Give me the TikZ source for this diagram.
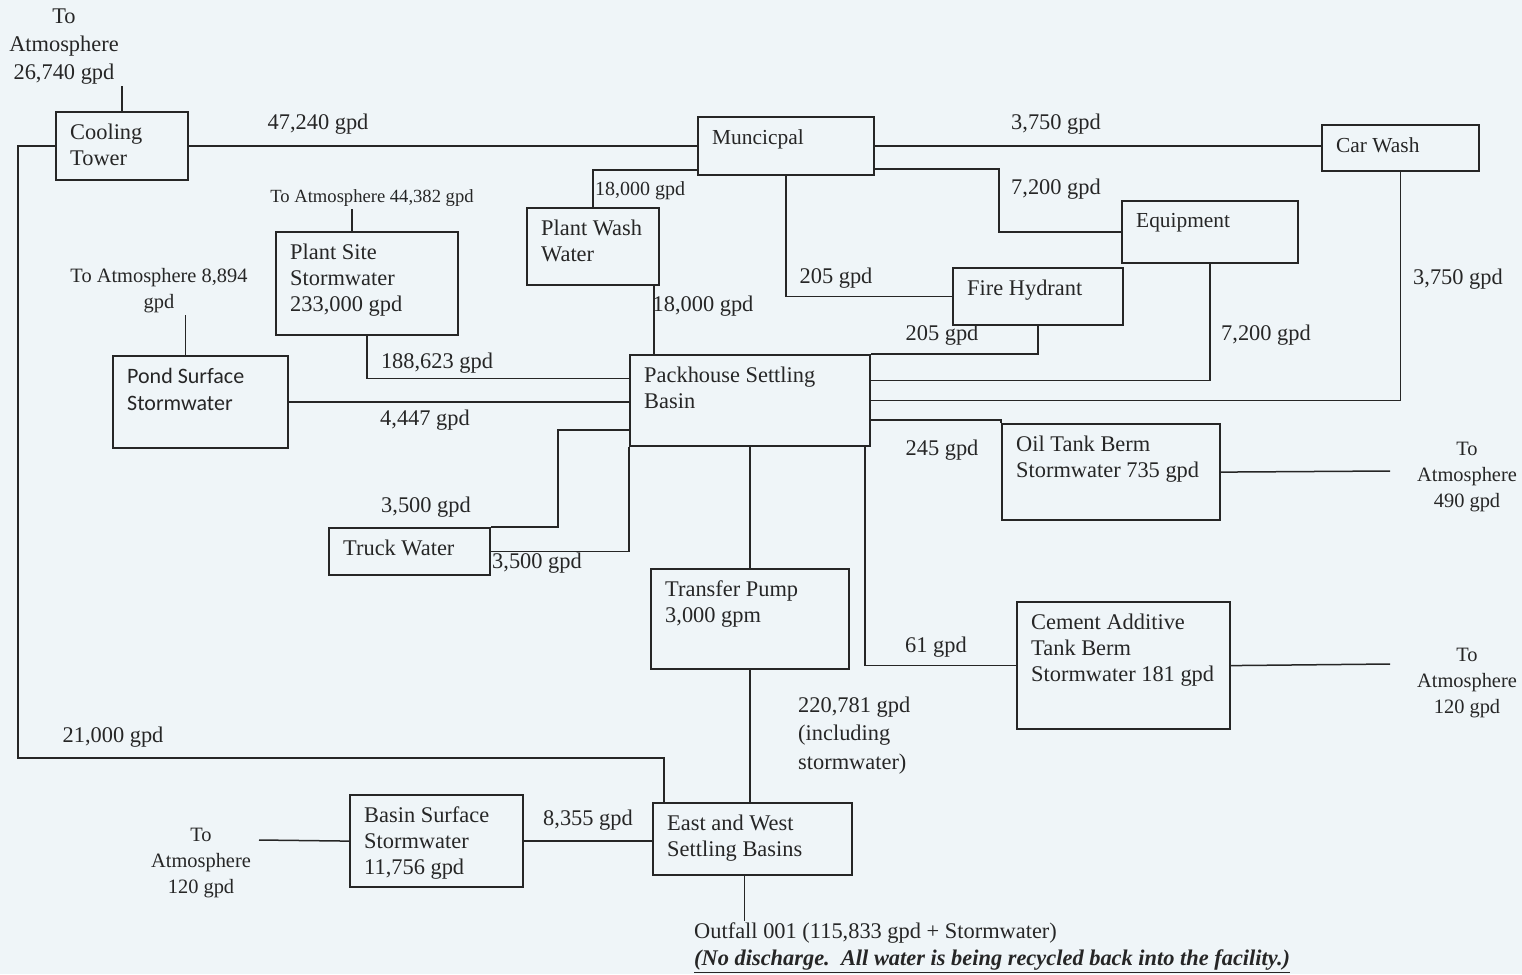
\documentclass[tikz,border=0pt]{standalone}
\usepackage{fontspec}
\setmainfont{Liberation Serif}
\newfontfamily\calibri{Carlito}
\definecolor{ink}{RGB}{38,38,38}
\definecolor{paper}{RGB}{239,245,248}
\tikzset{
  unit/.style={draw=ink, line width=2.2pt, anchor=north west, inner sep=0pt},
  boxtext/.style={anchor=north west, align=left, inner xsep=15pt, inner ysep=13pt, text=ink, font=\fontsize{22.4}{26}\selectfont},
  flow/.style={draw=ink, line width=1.5pt},
  qty/.style={text=ink, font=\fontsize{22.4}{26}\selectfont, inner sep=2pt, yshift=-2.5pt},
  airqty/.style={qty, align=center, font=\fontsize{20.4}{26}\selectfont},
}
\begin{document}
\begin{tikzpicture}[x=1pt, y=-1pt]
\path[use as bounding box, fill=paper] (0,0) rectangle (1522,974);

% units
\node[unit, minimum width=132pt, minimum height=68pt, label={[boxtext]north west:Cooling\\Tower}] (cooling) at (55,111) {};
\node[unit, minimum width=176pt, minimum height=58pt, label={[boxtext, font=\fontsize{21.4}{26}\selectfont]north west:Muncicpal}] (muni) at (697,116) {};
\node[unit, minimum width=157pt, minimum height=46pt, label={[boxtext, font=\fontsize{21.4}{26}\selectfont]north west:Car Wash}] (carwash) at (1321,124) {};
\node[unit, minimum width=176pt, minimum height=62pt, label={[boxtext, font=\fontsize{21.4}{26}\selectfont]north west:Equipment}] (equip) at (1121,200) {};
\node[unit, minimum width=170pt, minimum height=57pt, label={[boxtext]north west:Fire Hydrant}] (hydrant) at (952,267) {};
\node[unit, minimum width=132pt, minimum height=77pt, label={[boxtext]north west:Plant Wash\\Water}] (wash) at (526,207) {};
\node[unit, minimum width=182pt, minimum height=103pt, label={[boxtext]north west:{Plant Site\\Stormwater\\233,000 gpd}}] (site) at (275,231) {};
\node[unit, minimum width=175pt, minimum height=92pt, label={[boxtext, font=\calibri\fontsize{22}{27}\selectfont]north west:Pond Surface\\Stormwater}] (pond) at (112,355) {};
\node[unit, minimum width=240pt, minimum height=91pt, label={[boxtext]north west:Packhouse Settling\\Basin}] (pack) at (629,354) {};
\node[unit, minimum width=161pt, minimum height=47pt, label={[boxtext]north west:Truck Water}] (truck) at (328,527) {};
\node[unit, minimum width=218pt, minimum height=96pt, label={[boxtext]north west:Oil Tank Berm\\Stormwater 735 gpd}] (oil) at (1001,423) {};
\node[unit, minimum width=198pt, minimum height=100pt, label={[boxtext]north west:{Transfer Pump\\3,000 gpm}}] (pump) at (650,568) {};
\node[unit, minimum width=213pt, minimum height=127pt, label={[boxtext]north west:Cement Additive\\Tank Berm\\Stormwater 181 gpd}] (cement) at (1016,601) {};
\node[unit, minimum width=199pt, minimum height=72pt, label={[boxtext]north west:East and West\\Settling Basins}] (basins) at (652,802) {};
\node[unit, minimum width=173pt, minimum height=92pt, label={[boxtext]north west:{Basin Surface\\Stormwater\\11,756 gpd}}] (surface) at (349,794) {};

% losses and outfall
\node[qty, align=center, font=\fontsize{22.4}{28}\selectfont] (airtower) at (64,44) {To\\Atmosphere\\26,740 gpd};
\node[qty, font=\fontsize{18.6}{24}\selectfont] (airsite) at (372,196) {To Atmosphere 44,382 gpd};
\node[airqty] (airpond) at (159,288) {To Atmosphere 8,894\\gpd};
\node[airqty] (airoil) at (1467,475) {To\\Atmosphere\\490 gpd};
\node[airqty] (aircement) at (1467,681) {To\\Atmosphere\\120 gpd};
\node[airqty] (airsurface) at (201,861) {To\\Atmosphere\\120 gpd};
\node[qty, align=left, anchor=north west, font=\fontsize{22.4}{27}\selectfont] (outfall) at (692,918) {Outfall 001 (115,833 gpd + Stormwater)\\\underline{\textbf{\textit{(No discharge.\ \ All water is being recycled back into the facility.)}}}};
\coordinate (oilair) at (1390,471);
\coordinate (cementair) at (1390,664);
\coordinate (surfaceair) at (259,840);

% flows
\draw[flow] (cooling.north) -- (cooling.north |- airtower.south);
\draw[flow] (cooling.east) -- (muni.west);
\draw[flow] (muni.east) -- (muni.east -| carwash.west);
\draw[flow] (carwash.south) |- (pack.east);
\draw[flow] ([yshift=7pt]muni.south east) -- ++(124,0) |- (equip.west);
\draw[flow] (equip.south) |- ([yshift=20pt]pack.east);
\draw[flow] (muni.south) |- (hydrant.west);
\draw[flow] (hydrant.south) |- (pack.north east);
\draw[flow] ([yshift=6pt]muni.south west) -| (wash.north);
\draw[flow] ([xshift=-6pt]wash.south east) -- ([xshift=-6pt]wash.south east |- pack.north);
\draw[flow] ([xshift=-15pt]site.north) -- ([xshift=-15pt]site.north |- airsite.south);
\draw[flow] (site.south) |- ([yshift=22pt]pack.west);
\draw[flow] ([xshift=-15pt]pond.north) -- ([xshift=-15pt]pond.north |- airpond.south);
\draw[flow] (pond.east) -- (pond.east -| pack.west);
\draw[flow] (truck.north east) -- ++(67,0) |- ([yshift=-29.5pt]pack.west);
\draw[flow] (truck.east) -| (pack.south west);
\draw[flow] ([yshift=-19.5pt]pack.east) -| (oil.north west);
\draw[flow] (oil.east) -- (oilair);
\draw[flow] ([xshift=-6pt]pack.south east) |- (cement.west);
\draw[flow] (cement.east) -- (cementair);
\draw[flow] (pack.south) -- (pump.north);
\draw[flow] (pump.south) -- (pump.south |- basins.north);
\draw[flow] (cooling.west) -- ++(-37,0) -- ++(0,612) -| ([xshift=12pt]basins.north west);
\draw[flow] (surface.east) -- (surface.east -| basins.west);
\draw[flow] (surface.west) -- (surfaceair);
\draw[flow] ([xshift=-8pt]basins.south) -- ([xshift=-8pt]basins.south |- outfall.north);

% quantities
\node[qty] (q1) at (318,122) {47,240 gpd};
\node[qty] (q2) at (1056,122) {3,750 gpd};
\node[qty] (q3) at (1056,187) {7,200 gpd};
\node[qty, font=\fontsize{20}{24}\selectfont] (q4) at (640,188) {18,000 gpd};
\node[qty] (q5) at (836,276) {205 gpd};
\node[qty] (q6) at (703,304) {18,000 gpd};
\node[qty] (q7) at (1266,333) {7,200 gpd};
\node[qty] (q8) at (942,333) {205 gpd};
\node[qty] (q9) at (1458,277) {3,750 gpd};
\node[qty] (q10) at (437,361) {188,623 gpd};
\node[qty] (q11) at (425,418) {4,447 gpd};
\node[qty] (q12) at (942,448) {245 gpd};
\node[qty] (q13) at (426,505) {3,500 gpd};
\node[qty] (q14) at (537,561) {3,500 gpd};
\node[qty] (q15) at (936,645) {61 gpd};
\node[qty, align=left, anchor=west, font=\fontsize{22.4}{28.5}\selectfont] (q16) at (796,733) {220,781 gpd\\(including\\stormwater)};
\node[qty] (q17) at (113,735) {21,000 gpd};
\node[qty] (q18) at (588,818) {8,355 gpd};
\end{tikzpicture}
\end{document}
